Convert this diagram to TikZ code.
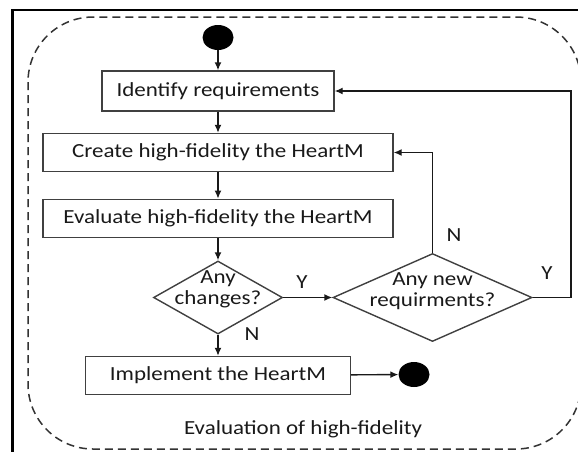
\documentclass[tikz,border=0pt]{standalone}
\usepackage{fontspec}
\setmainfont{Carlito}[FakeStretch=1.15]
\usetikzlibrary{arrows.meta,shapes.geometric}

\begin{document}
\begin{tikzpicture}[x=1pt, y=-1pt,
    every node/.style={font=\fontsize{20}{21}\selectfont, text=black!90},
    stepbox/.style={draw=black!75, line width=1.4pt, inner sep=0pt},
    choice/.style={diamond, draw=black!75, line width=1.4pt, inner sep=0pt},
    dot/.style={ellipse, fill=black, inner sep=0pt, minimum width=31pt, minimum height=25pt},
    flow/.style={draw=black!90, line width=1.4pt, -{Latex[length=8pt,width=7pt]}},
    lbl/.style={inner sep=0pt},
    region/.style={draw=black!80, line width=1.5pt, dash pattern=on 8pt off 5pt, rounded corners=65pt}]
    \useasboundingbox (0,0) rectangle (578,451);

    % frame and dashed region
    \draw[line width=2.5pt] (12.5,470) -- (12.5,10) -- (600,10);
    \draw[region] (28,17) rectangle (581,449);

    % start and end points
    \node[dot] (start) at (218,37.5) {};
    \node[dot] (finish) at (414,374.5) {};

    % steps
    \node[stepbox, minimum width=232pt, minimum height=40pt] (ident) at (218,91) {Identify requirements};
    \node[stepbox, minimum width=350pt, minimum height=38pt] (create) at (218,152.5) {Create high-fidelity the HeartM};
    \node[stepbox, minimum width=350pt, minimum height=38pt] (eval) at (218,218.3) {Evaluate high-fidelity the HeartM};
    \node[stepbox, minimum width=265pt, minimum height=38pt] (impl) at (218,375.5) {Implement the HeartM};

    % decisions
    \node[choice, minimum width=129pt, minimum height=73pt,
          label={[align=center, yshift=8pt]center:Any\\changes?}] (changes) at (218,297.5) {};
    \node[choice, minimum width=199pt, minimum height=88pt,
          label={[align=center, yshift=6pt]center:Any new\\requirments?}] (newreq) at (432.5,297.5) {};
    \coordinate (loop) at (571,297.5);

    % flows
    \draw[flow] (start) -- (ident);
    \draw[flow] (ident) -- (create);
    \draw[flow] (create) -- (eval);
    \draw[flow] (eval) -- (changes);
    \draw[flow] (changes) -- (impl);
    \draw[flow] (changes) -- (newreq);
    \draw[flow] (newreq.north) |- (create.east);
    \draw[flow] (newreq.east) -- (loop) |- (ident.east);
    \draw[flow] (impl) -- (finish);

    % labels
    \node[lbl] (yes1) at (302,282) {Y};
    \node[lbl] (no1) at (252,334) {N};
    \node[lbl] (no2) at (454,235) {N};
    \node[lbl] (yes2) at (547,273) {Y};
    \node (title) at (303,429) {Evaluation of high-fidelity};
\end{tikzpicture}
\end{document}
